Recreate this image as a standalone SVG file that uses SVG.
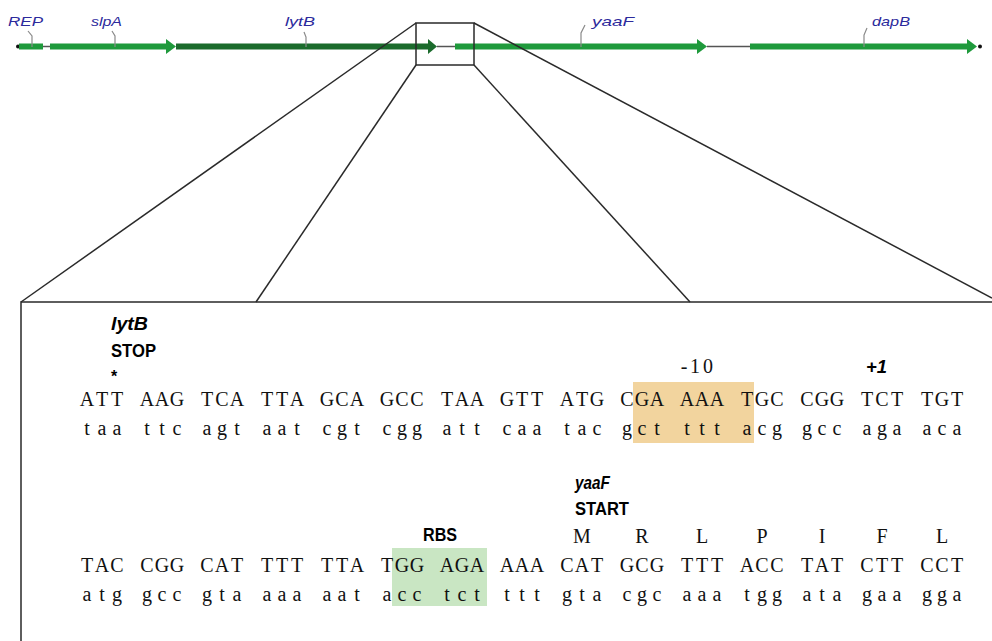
<svg xmlns="http://www.w3.org/2000/svg" width="992" height="641" viewBox="0 0 992 641">
  <defs>
    <style>
      .gene { fill: #1f9a3c; }
      .gene-dark { fill: #1b6b2c; }
      .spacer { stroke: #555; stroke-width: 1.5; fill: none; }
      .leader { stroke: #8a8a8a; stroke-width: 1.2; fill: none; }
      .glabel { font-family: "Liberation Sans", Arial, sans-serif; font-style: italic; font-size: 13px; fill: #2c2a9c; }
      .frame { stroke: #2a2a2a; stroke-width: 1.5; fill: none; }
      /* sequence letters: one glyph per 15px cell, centred in the cell */
      .seq { font-family: "Liberation Serif", "Times New Roman", serif; font-size: 20px; text-anchor: middle; fill: #111; }
      .ann { font-family: "Liberation Sans", Arial, sans-serif; font-weight: bold; fill: #000; }
      .annit { font-family: "Liberation Sans", Arial, sans-serif; font-weight: bold; font-style: italic; fill: #000; }
    </style>
  </defs>
  <rect width="992" height="641" fill="#ffffff"/>

  <!-- genome map -->
  <g id="map">
    <g id="gene-REP">
      <circle cx="18" cy="46.5" r="2" fill="#111"/>
      <rect class="gene" x="19" y="43.5" width="24" height="6"/>
      <line class="spacer" x1="43" y1="46.5" x2="50" y2="46.5"/>
      <polyline class="leader" points="28,31 32,36 32,47"/>
      <text class="glabel" x="8" y="26" textLength="35" lengthAdjust="spacingAndGlyphs">REP</text>
    </g>
    <g id="gene-slpA">
      <rect class="gene" x="50" y="43.5" width="117" height="6"/>
      <polygon class="gene" points="166,39 176,46.5 166,54"/>
      <polyline class="leader" points="112,31 115,36 115,47"/>
      <text class="glabel" x="91" y="26" textLength="31" lengthAdjust="spacingAndGlyphs">slpA</text>
    </g>
    <g id="gene-lytB">
      <rect class="gene-dark" x="176" y="43.5" width="253" height="6"/>
      <polygon class="gene-dark" points="428,39 437,46.5 428,54"/>
      <polyline class="leader" points="304,32 306,37 306,47"/>
      <text class="glabel" x="285" y="26" textLength="30" lengthAdjust="spacingAndGlyphs">lytB</text>
    </g>
    <line class="spacer" x1="437" y1="46.5" x2="455" y2="46.5"/>
    <g id="gene-yaaF">
      <rect class="gene" x="455" y="43.5" width="243" height="6"/>
      <polygon class="gene" points="697,39 707,46.5 697,54"/>
      <polyline class="leader" points="585,25 581,33 581,47"/>
      <text class="glabel" x="592" y="26" textLength="42" lengthAdjust="spacingAndGlyphs">yaaF</text>
    </g>
    <line class="spacer" x1="707" y1="46.5" x2="750" y2="46.5"/>
    <g id="gene-dapB">
      <rect class="gene" x="750" y="43.5" width="218" height="6"/>
      <polygon class="gene" points="967,39 977,46.5 967,54"/>
      <circle cx="980" cy="46.5" r="2" fill="#111"/>
      <polyline class="leader" points="867,28 864,35 864,47"/>
      <text class="glabel" x="872" y="26" textLength="38" lengthAdjust="spacingAndGlyphs">dapB</text>
    </g>
    <g id="zoom-box">
      <rect class="frame" x="416" y="23" width="58" height="42"/>
    </g>
  </g>

  <!-- projection lines from the zoom box to the detail panel -->
  <g id="connectors" class="frame">
    <line x1="416" y1="23" x2="21" y2="302"/>
    <line x1="416" y1="65" x2="256" y2="302"/>
    <line x1="474" y1="65" x2="690" y2="302"/>
    <line x1="474" y1="23" x2="992" y2="298"/>
  </g>

  <!-- detail panel -->
  <g id="panel">
    <polyline class="frame" points="21,641 21,302 992,302"/>
  </g>

  <!-- block 1: lytB stop / -10 / +1 -->
  <g id="block-1">
    <rect x="633" y="382" width="121" height="61" fill="#f2d49e"/>
    <text class="annit" x="111" y="330" font-size="18" textLength="37" lengthAdjust="spacingAndGlyphs">lytB</text>
    <text class="ann" x="111" y="357" font-size="19" textLength="45" lengthAdjust="spacingAndGlyphs">STOP</text>
    <text class="ann" x="111" y="382" font-size="16" font-weight="normal">*</text>
    <text class="seq" y="373" x="684 695 708">-10</text>
    <text class="annit" x="866" y="373" font-size="18" textLength="21" lengthAdjust="spacingAndGlyphs">+1</text>
    <text class="seq" y="406"><tspan x="87 102 117">ATT</tspan><tspan x="147 162 177">AAG</tspan><tspan x="207 222 237">TCA</tspan><tspan x="267 282 297">TTA</tspan><tspan x="327 342 357">GCA</tspan><tspan x="387 402 417">GCC</tspan><tspan x="447 462 477">TAA</tspan><tspan x="507 522 537">GTT</tspan><tspan x="567 582 597">ATG</tspan><tspan x="627 642 657">CGA</tspan><tspan x="687 702 717">AAA</tspan><tspan x="747 762 777">TGC</tspan><tspan x="807 822 837">CGG</tspan><tspan x="867 882 897">TCT</tspan><tspan x="927 942 957">TGT</tspan></text>
    <text class="seq" y="435"><tspan x="87 102 117">taa</tspan><tspan x="147 162 177">ttc</tspan><tspan x="207 222 237">agt</tspan><tspan x="267 282 297">aat</tspan><tspan x="327 342 357">cgt</tspan><tspan x="387 402 417">cgg</tspan><tspan x="447 462 477">att</tspan><tspan x="507 522 537">caa</tspan><tspan x="567 582 597">tac</tspan><tspan x="627 642 657">gct</tspan><tspan x="687 702 717">ttt</tspan><tspan x="747 762 777">acg</tspan><tspan x="807 822 837">gcc</tspan><tspan x="867 882 897">aga</tspan><tspan x="927 942 957">aca</tspan></text>
  </g>

  <!-- block 2: RBS / yaaF start / translation -->
  <g id="block-2">
    <rect x="392" y="548" width="95" height="58" fill="#c9e6c3"/>
    <text class="annit" x="575" y="489" font-size="18" textLength="35" lengthAdjust="spacingAndGlyphs">yaaF</text>
    <text class="ann" x="575" y="515" font-size="19" textLength="54" lengthAdjust="spacingAndGlyphs">START</text>
    <text class="ann" x="423" y="541" font-size="19" textLength="34" lengthAdjust="spacingAndGlyphs">RBS</text>
    <text class="seq" y="543"><tspan x="582">M</tspan><tspan x="642">R</tspan><tspan x="702">L</tspan><tspan x="762">P</tspan><tspan x="822">I</tspan><tspan x="882">F</tspan><tspan x="942">L</tspan></text>
    <text class="seq" y="572"><tspan x="87 102 117">TAC</tspan><tspan x="147 162 177">CGG</tspan><tspan x="207 222 237">CAT</tspan><tspan x="267 282 297">TTT</tspan><tspan x="327 342 357">TTA</tspan><tspan x="387 402 417">TGG</tspan><tspan x="447 462 477">AGA</tspan><tspan x="507 522 537">AAA</tspan><tspan x="567 582 597">CAT</tspan><tspan x="627 642 657">GCG</tspan><tspan x="687 702 717">TTT</tspan><tspan x="747 762 777">ACC</tspan><tspan x="807 822 837">TAT</tspan><tspan x="867 882 897">CTT</tspan><tspan x="927 942 957">CCT</tspan></text>
    <text class="seq" y="601"><tspan x="87 102 117">atg</tspan><tspan x="147 162 177">gcc</tspan><tspan x="207 222 237">gta</tspan><tspan x="267 282 297">aaa</tspan><tspan x="327 342 357">aat</tspan><tspan x="387 402 417">acc</tspan><tspan x="447 462 477">tct</tspan><tspan x="507 522 537">ttt</tspan><tspan x="567 582 597">gta</tspan><tspan x="627 642 657">cgc</tspan><tspan x="687 702 717">aaa</tspan><tspan x="747 762 777">tgg</tspan><tspan x="807 822 837">ata</tspan><tspan x="867 882 897">gaa</tspan><tspan x="927 942 957">gga</tspan></text>
  </g>
</svg>
